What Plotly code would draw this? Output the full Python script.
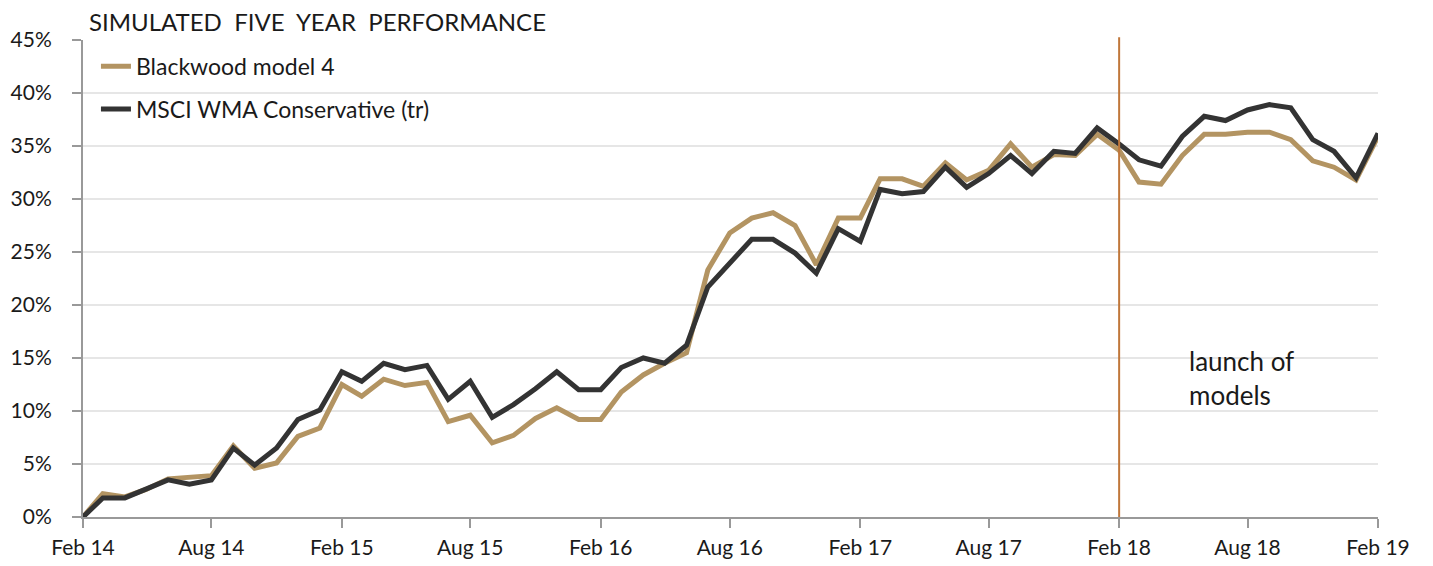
import plotly.graph_objects as go
import pandas as pd

dates = pd.date_range("2014-02-01", "2019-02-01", freq="MS")

blackwood = [0.0, 2.2, 1.9, 2.6, 3.6, 3.7, 3.9, 6.7, 4.6, 5.1, 7.6, 8.4,
             12.5, 11.4, 13.0, 12.4, 12.7, 9.0, 9.6, 7.0, 7.7, 9.3, 10.3, 9.2,
             9.2, 11.8, 13.4, 14.5, 15.5, 23.3, 26.8, 28.2, 28.7, 27.5, 23.8, 28.2,
             28.2, 31.9, 31.9, 31.2, 33.4, 31.8, 32.7, 35.2, 33.0, 34.2, 34.1, 36.1,
             34.6, 31.6, 31.4, 34.1, 36.1, 36.1, 36.3, 36.3, 35.6, 33.6, 33.0, 31.8,
             35.9]
msci = [0.0, 1.8, 1.8, 2.6, 3.5, 3.1, 3.5, 6.5, 4.9, 6.5, 9.2, 10.1,
        13.7, 12.8, 14.5, 13.9, 14.3, 11.1, 12.8, 9.4, 10.6, 12.1, 13.7, 12.0,
        12.0, 14.1, 15.0, 14.5, 16.2, 21.7, 23.9, 26.2, 26.2, 24.9, 23.0, 27.2,
        26.0, 30.9, 30.5, 30.7, 33.0, 31.1, 32.4, 34.1, 32.4, 34.5, 34.3, 36.7,
        35.2, 33.7, 33.1, 35.9, 37.8, 37.4, 38.4, 38.9, 38.6, 35.6, 34.5, 32.0,
        36.2]

series_names = ["Blackwood model 4", "MSCI WMA Conservative (tr)"]
series_colors = ["#B39462", "#333333"]
launch_date = "2018-02-01"

FONT = "Lato, 'Open Sans', sans-serif"

fig = go.Figure()
for name, vals, col in zip(series_names, [blackwood, msci], series_colors):
    fig.add_trace(go.Scatter(
        x=dates, y=vals, mode="lines", name=name, legendgroup=name,
        line=dict(color=col, width=5), hoverinfo="skip",
    ))

fig.add_shape(type="line", xref="x", yref="paper", x0=launch_date, x1=launch_date,
              y0=0, y1=1.006, line=dict(color="#C0773A", width=2), layer="above")

fig.add_annotation(text="launch of<br>models", xref="paper", yref="y",
                   x=(1187 - 83) / (1378 - 83), y=16.4, xanchor="left", yanchor="top",
                   showarrow=False, align="left",
                   font=dict(family=FONT, size=26, color="#1a1a1a"))

fig.add_annotation(text="SIMULATED\u00a0 FIVE\u00a0 YEAR\u00a0 PERFORMANCE",
                   xref="paper", yref="paper",
                   x=0, y=1, xshift=4, yshift=19, xanchor="left", yanchor="middle",
                   showarrow=False, font=dict(family=FONT, size=24, color="#1a1a1a"))

fig.update_layout(
    width=1425, height=558,
    margin=dict(l=75, r=55, t=32, b=49, autoexpand=False),
    paper_bgcolor="white", plot_bgcolor="white",
    font=dict(family=FONT, size=21, color="#1a1a1a"),
    showlegend=True,
    legend=dict(x=0.01, y=0.99, xanchor="left", yanchor="top",
                bgcolor="rgba(0,0,0,0)", font=dict(size=23),
                tracegroupgap=10, traceorder="grouped", itemwidth=30),
    xaxis=dict(
        range=["2014-02-01", "2019-02-01"], type="date", automargin=False,
        tick0="2014-02-01", dtick="M6", tickformat="%b %y",
        showgrid=False, showline=True, linecolor="#999999", linewidth=2,
        ticks="outside", ticklen=9, tickcolor="#999999", tickwidth=1.5,
        tickfont=dict(size=21), zeroline=False, ticklabelstandoff=2,
    ),
    yaxis=dict(
        range=[0, 45], dtick=5, ticksuffix="%", automargin=False,
        showgrid=True, gridcolor="#e6e6e6", gridwidth=2,
        showline=True, linecolor="#999999", linewidth=2,
        ticks="outside", ticklen=9, tickcolor="#999999", tickwidth=1.5,
        tickfont=dict(size=21), zeroline=False, ticklabelstandoff=16,
    ),
)

fig.write_html("out.html")
